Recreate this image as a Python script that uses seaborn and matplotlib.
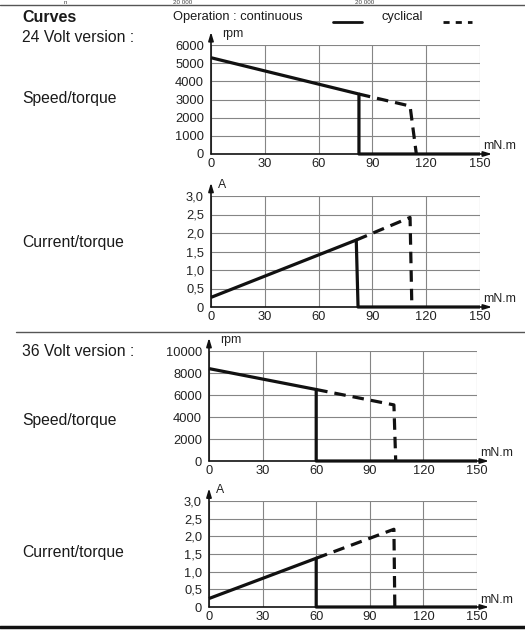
import matplotlib
matplotlib.use("Agg")
import matplotlib.pyplot as plt
import seaborn as sns
import pandas as pd

# Torque axis (mN.m)
torque_ticks = [0, 30, 60, 90, 120, 150]

# 24 V version
v24_speed_cont_t = [0, 82.5, 82.5, 150]
v24_speed_cont = [5300, 3300, 0, 0]
v24_speed_cyc_t = [82.5, 111, 114.5]
v24_speed_cyc = [3300, 2640, 0]
v24_curr_cont_t = [0, 81, 82, 150]
v24_curr_cont = [0.26, 1.81, 0, 0]
v24_curr_cyc_t = [81, 111, 112]
v24_curr_cyc = [1.81, 2.42, 0]

# 36 V version
v36_speed_cont_t = [0, 60, 60, 150]
v36_speed_cont = [8400, 6500, 0, 0]
v36_speed_cyc_t = [60, 103.5, 104.5]
v36_speed_cyc = [6500, 5100, 0]
v36_curr_cont_t = [0, 60, 60, 150]
v36_curr_cont = [0.24, 1.38, 0, 0]
v36_curr_cyc_t = [60, 103.5, 104]
v36_curr_cyc = [1.38, 2.2, 0]

speed24_ticks = [0, 1000, 2000, 3000, 4000, 5000, 6000]
speed36_ticks = [0, 2000, 4000, 6000, 8000, 10000]
current_ticks = [0, 0.5, 1.0, 1.5, 2.0, 2.5, 3.0]
current_labels = ["0", "0,5", "1,0", "1,5", "2,0", "2,5", "3,0"]

sns.set_style("white")
plt.rcParams["font.family"] = ["Liberation Sans", "DejaVu Sans"]

W, H = 525, 630
fig = plt.figure(figsize=(W / 100, H / 100), dpi=100)


def fx(px):
    return px / W


def fy(py):
    return 1 - py / H


def panel(x0, x1, ytop, ybot, t_cont, v_cont, t_cyc, v_cyc,
          yticks, ylabels, unit, unit_dx):
    ax = fig.add_axes([fx(x0), fy(ybot), fx(x1) - fx(x0), (ybot - ytop) / H])
    df = pd.DataFrame({
        "torque": list(t_cont) + list(t_cyc),
        "value": list(v_cont) + list(v_cyc),
        "mode": ["continuous"] * len(t_cont) + ["cyclical"] * len(t_cyc),
    })
    sns.lineplot(data=df, x="torque", y="value", style="mode",
                 dashes={"continuous": "", "cyclical": (3.6, 2.2)},
                 sort=False, estimator=None, color="#111111",
                 linewidth=2.3, legend=False, ax=ax, zorder=5)
    for ln in ax.lines:
        ln.set_clip_on(False)
        ln.set_solid_capstyle("butt")
    ax.set_xlim(0, 150)
    ax.set_ylim(yticks[0], yticks[-1])
    ax.set_xticks(torque_ticks)
    ax.set_xticklabels([str(t) for t in torque_ticks])
    ax.set_yticks(yticks)
    ax.set_yticklabels(ylabels)
    ax.tick_params(length=0, labelsize=9.3, colors="#222222")
    ax.tick_params(axis="x", pad=3)
    ax.tick_params(axis="y", pad=5)
    ax.set_xlabel("")
    ax.set_ylabel("")
    ax.grid(True, color="#858585", linewidth=0.8)
    for s in ("top", "right", "left", "bottom"):
        ax.spines[s].set_visible(False)
    # axis lines with arrow heads
    ax.annotate("", xy=(0, 1.12), xytext=(0, 0), xycoords="axes fraction",
                arrowprops=dict(arrowstyle="-|>,head_length=0.5,head_width=0.15",
                                color="#111111", lw=1.2, shrinkA=0, shrinkB=0))
    ax.annotate("", xy=(1.045, 0), xytext=(0, 0), xycoords="axes fraction",
                arrowprops=dict(arrowstyle="-|>,head_length=0.5,head_width=0.15",
                                color="#111111", lw=1.2, shrinkA=0, shrinkB=0))
    ax.text(unit_dx, 1.1, unit, transform=ax.transAxes, fontsize=8.8,
            ha="left", va="center", color="#222222")
    ax.text(1.012, 0.07, "mN.m", transform=ax.transAxes, fontsize=8.8,
            ha="left", va="center", color="#222222")
    return ax


panel(211, 480, 45, 154, v24_speed_cont_t, v24_speed_cont,
      v24_speed_cyc_t, v24_speed_cyc,
      speed24_ticks, [str(v) for v in speed24_ticks], "rpm", 0.04)
panel(211, 480, 196, 307, v24_curr_cont_t, v24_curr_cont,
      v24_curr_cyc_t, v24_curr_cyc,
      current_ticks, current_labels, "A", 0.025)
panel(209, 477, 351, 461, v36_speed_cont_t, v36_speed_cont,
      v36_speed_cyc_t, v36_speed_cyc,
      speed36_ticks, [str(v) for v in speed36_ticks], "rpm", 0.04)
panel(209, 477, 501, 607, v36_curr_cont_t, v36_curr_cont,
      v36_curr_cyc_t, v36_curr_cyc,
      current_ticks, current_labels, "A", 0.025)

# Left-hand captions
def label(px, py, s, **kw):
    fig.text(fx(px), fy(py), s, ha="left", va="center", color="#1a1a1a", **kw)


label(22, 18, "Curves", fontsize=11.5, fontweight="bold")
label(22, 37, "24 Volt version :", fontsize=11.3)
label(22, 98, "Speed/torque", fontsize=11.3)
label(22, 243, "Current/torque", fontsize=11.3)
label(22, 351, "36 Volt version :", fontsize=11.3)
label(22, 420, "Speed/torque", fontsize=11.3)
label(22, 553, "Current/torque", fontsize=11.3)

# Operation key
label(173, 17, "Operation : continuous", fontsize=9.3)
label(382, 17, "cyclical", fontsize=9.3)
fig.add_artist(plt.Line2D([fx(333), fx(362)], [fy(22), fy(22)],
                          color="#111111", lw=2.0))
fig.add_artist(plt.Line2D([fx(443), fx(472)], [fy(22), fy(22)],
                          color="#111111", lw=2.0, dashes=(2.2, 2.2)))

# Table remnant along the top edge and section rules
for px, s in ((173, "20 000"), (355, "20 000"), (64, "n")):
    fig.text(fx(px), fy(4.6), s, ha="left", va="bottom",
             fontsize=4.5, color="#444444")
fig.add_artist(plt.Line2D([0, 1], [fy(5), fy(5)], color="#555555", lw=1.0))
fig.add_artist(plt.Line2D([fx(16), 1], [fy(332), fy(332)], color="#555555", lw=1.0))
fig.add_artist(plt.Line2D([0, 1], [fy(627), fy(627)], color="#111111", lw=2.5))

fig.savefig("out.png", dpi=100)
